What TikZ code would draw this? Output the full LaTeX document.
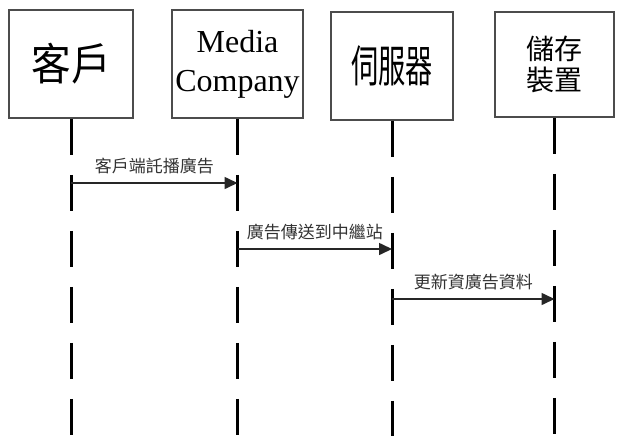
\documentclass[tikz,border=0pt]{standalone}
\usepackage{fontspec}
\usepackage{graphicx}
\setmainfont{Liberation Serif}
\newfontfamily\cjk{Noto Sans CJK TC}
\usetikzlibrary{arrows.meta}
\begin{document}
\begin{tikzpicture}[x=1pt,y=-1pt,
  actor/.style={draw=black!70, line width=1.8pt, inner sep=0pt, fill=white, align=center},
  life/.style={line width=3pt, dash pattern=on 36pt off 20pt},
  msg/.style={line width=1.6pt, draw=black!85, -{Triangle[length=13pt,width=12pt]}},
  lbl/.style={font=\cjk\fontsize{17}{17}\selectfont, inner sep=0pt, text=black!80}]
\useasboundingbox (0,0) rectangle (617,436);
\fill[white] (0,0) rectangle (617,436);

% actors
\node[actor, minimum width=124pt, minimum height=108pt, font=\cjk\fontsize{44}{44}\selectfont] (b1) at (71,64)
  {\scalebox{0.9}[1]{客戶}};
\node[actor, minimum width=131pt, minimum height=108pt, font=\fontsize{32}{39}\selectfont] (b2) at (237.5,64)
  {Media\\Company};
\node[actor, minimum width=122pt, minimum height=108pt, font=\cjk\fontsize{44}{44}\selectfont] (b3) at (392,66)
  {\scalebox{0.62}[1]{伺服器}};
\node[actor, minimum width=119pt, minimum height=105pt, font=\cjk\fontsize{28}{31}\selectfont] (b4) at (554.5,64.5)
  {儲存\\裝置};

% lifelines
\coordinate (bot) at (0,436);
\draw[life] (b1.south) -- (b1.south |- bot);
\draw[life] (b2.south) -- (b2.south |- bot);
\draw[life] (b3.south) -- (b3.south |- bot);
\draw[life] (b4.south) -- (b4.south |- bot);

% message levels
\coordinate (y1) at (0,183);
\coordinate (y2) at (0,249);
\coordinate (y3) at (0,299);

\draw[msg] (b1.south |- y1) -- node[lbl, yshift=17pt] (m1) {客戶端託播廣告} (b2.south |- y1);
\draw[msg] (b2.south |- y2) -- node[lbl, yshift=17pt] (m2) {廣告傳送到中繼站} (b3.south |- y2);
\draw[msg] (b3.south |- y3) -- node[lbl, yshift=17pt] (m3) {更新資廣告資料} (b4.south |- y3);
\end{tikzpicture}
\end{document}
